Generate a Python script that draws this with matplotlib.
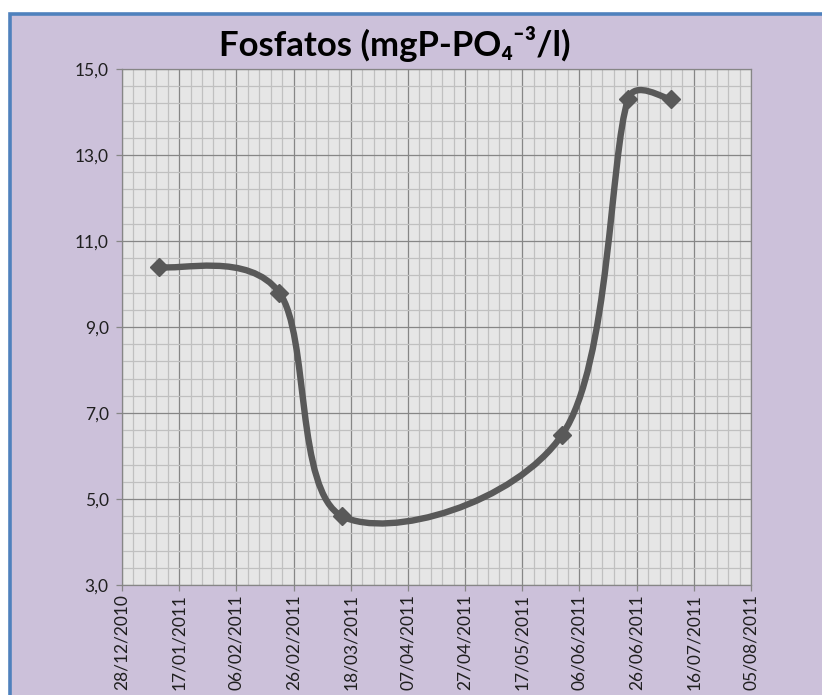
import numpy as np
import pandas as pd
import matplotlib
matplotlib.use("Agg")
import matplotlib.pyplot as plt
import matplotlib.dates as mdates
from matplotlib.path import Path
from matplotlib.patches import PathPatch, Rectangle
from matplotlib.lines import Line2D
from matplotlib.ticker import FuncFormatter, FixedLocator

# sample dates and phosphate values
sample_dates = ['2011-01-10', '2011-02-21', '2011-03-15',
                '2011-05-31', '2011-06-23', '2011-07-08']
fosfatos = [10.4, 9.8, 4.6, 6.5, 14.3, 14.3]

x_start = '2010-12-28'
x_end = '2011-08-05'
y_min, y_max = 3.0, 15.0

line_gray = '#595959'
lavender = '#CCC1DA'
border_blue = '#4F81BD'

plt.rcParams['font.family'] = ['Lato', 'DejaVu Sans']

fig = plt.figure(figsize=(8.22, 6.95), dpi=100, facecolor='white')

# chart area background with blue frame on top and left (cropped like the original)
fx, fy = 9.5 / 822, 1 - 13.5 / 695
fig.patches.append(Rectangle((fx, 0), 1 - fx, fy, transform=fig.transFigure,
                             facecolor=lavender, edgecolor='none', zorder=-5))
fig.add_artist(Line2D([fx, fx, 1], [0, fy, fy], transform=fig.transFigure,
                      color=border_blue, lw=2.6, solid_joinstyle='miter', zorder=-4))

ax = fig.add_axes([122 / 822, 1 - 585 / 695, (751 - 122) / 822, (585 - 69) / 695])
ax.set_facecolor('#E6E6E6')

d0 = mdates.date2num(pd.Timestamp(x_start))
d1 = mdates.date2num(pd.Timestamp(x_end))
ax.set_xlim(d0, d1)
ax.set_ylim(y_min, y_max)

ax.xaxis.set_major_locator(FixedLocator(np.arange(d0, d1 + 1, 20)))
ax.xaxis.set_minor_locator(FixedLocator(np.arange(d0, d1 + 1, 4)))
ax.xaxis.set_major_formatter(mdates.DateFormatter('%d/%m/%Y'))
ax.yaxis.set_major_locator(FixedLocator(np.arange(y_min, y_max + 0.01, 2)))
ax.yaxis.set_minor_locator(FixedLocator(np.arange(y_min, y_max + 0.01, 0.4)))
ax.yaxis.set_major_formatter(FuncFormatter(lambda v, p: f'{v:.1f}'.replace('.', ',')))

ax.grid(which='minor', color='#C0C0C0', lw=0.9, zorder=0)
ax.grid(which='major', color='#868686', lw=0.9, zorder=0)
ax.set_axisbelow(True)
for s in ax.spines.values():
    s.set_color('#868686')
    s.set_linewidth(0.9)

ax.tick_params(which='major', length=4.5, width=0.9, color='#868686',
               labelsize=12.5, labelcolor='#1F1F1F')
ax.tick_params(axis='x', pad=2)
ax.tick_params(axis='y', pad=5)
ax.tick_params(which='minor', length=0)
plt.setp(ax.get_xticklabels(), rotation=90)

# smoothed line like Excel: bezier segments built in pixel space
xs = mdates.date2num(pd.to_datetime(sample_dates))
pts = ax.transData.transform(np.column_stack([xs, fosfatos]))
n = len(pts)
verts = [pts[0]]
codes = [Path.MOVETO]
for i in range(n - 1):
    p0 = pts[i - 1] if i > 0 else pts[i]
    p1, p2 = pts[i], pts[i + 1]
    p3 = pts[i + 2] if i + 2 < n else pts[i + 1]
    seg = np.hypot(*(p2 - p1))
    t1 = (p2 - p0) / 6
    t2 = (p3 - p1) / 6
    for t in (t1, t2):
        ln = np.hypot(*t)
        if ln > 0.5 * seg:
            t *= 0.5 * seg / ln
    verts += [p1 + t1, p2 - t2, p2]
    codes += [Path.CURVE4] * 3
verts = ax.transData.inverted().transform(np.array(verts))
ax.add_patch(PathPatch(Path(verts, codes), fill=False, edgecolor=line_gray,
                       lw=4.6, capstyle='round', joinstyle='round', zorder=3))
ax.plot(xs, fosfatos, ls='none', marker='D', ms=9.5, color=line_gray, zorder=4)

fig.text(0.48, 1 - 44 / 695, 'Fosfatos (mgP-PO\u2084\u207b\u00b3/l)', ha='center', va='center',
         fontsize=25, fontweight='bold', color='black')

fig.savefig('out.png', dpi=100, facecolor='white')
